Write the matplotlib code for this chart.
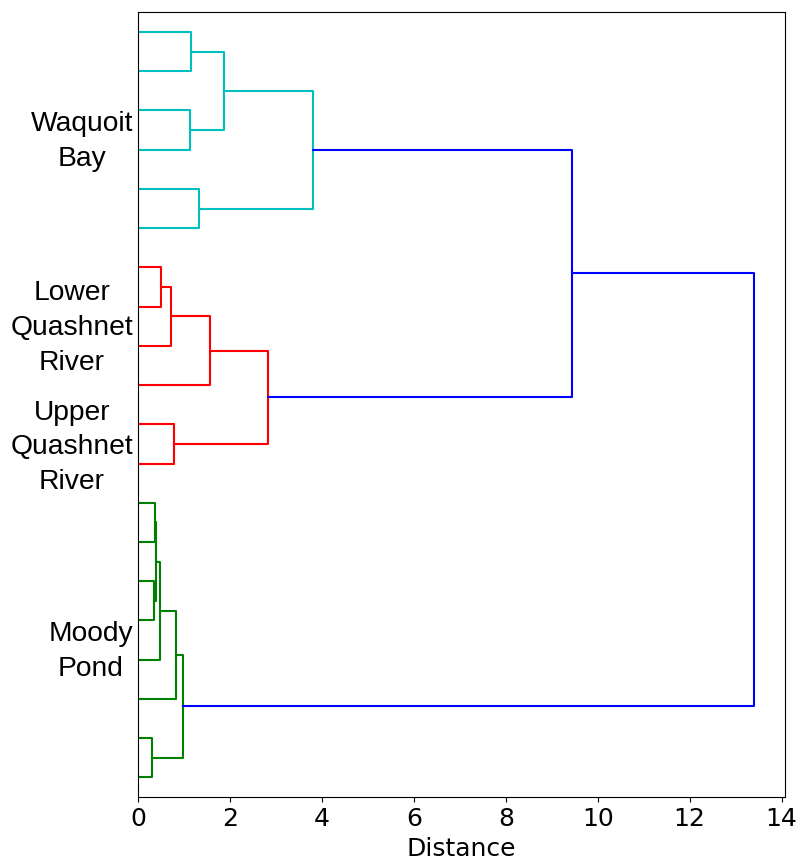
import matplotlib
matplotlib.use("Agg")
import matplotlib.pyplot as plt

# Leaves are numbered 0..19 from top to bottom.
n_leaves = 20

# Agglomerative merges: (child a, child b, distance); new cluster ids start at 20.
merge_a = [0, 2, 20, 4, 22, 6, 25, 26, 10, 27, 24, 12, 14, 31, 33, 34, 18, 35, 30]
merge_b = [1, 3, 21, 5, 23, 7, 8, 9, 11, 28, 29, 13, 15, 32, 16, 17, 19, 36, 37]
merge_dist = [1.15, 1.13, 1.86, 1.32, 3.80,
              0.50, 0.71, 1.56, 0.79, 2.83,
              9.44,
              0.37, 0.34, 0.40, 0.47, 0.82, 0.30, 0.98,
              13.40]
merge_color = ["c", "c", "c", "c", "c",
               "r", "r", "r", "r", "r",
               "b",
               "g", "g", "g", "g", "g", "g", "g",
               "b"]

group_labels = ["Waquoit\nBay", "Lower\nQuashnet\nRiver",
                "Upper\nQuashnet\nRiver", "Moody\nPond"]
group_label_pos = [31.0, 78.6, 109.0, 161.0]

fig = plt.figure(figsize=(8.0, 8.63), dpi=100)
ax = fig.add_axes([0.1725, 0.0765, 0.8085, 0.9092])

# position (distance, y) of every cluster
pos_x = {i: 0.0 for i in range(n_leaves)}
pos_y = {i: 5.0 + 10.0 * i for i in range(n_leaves)}

for k, (a, b, d, col) in enumerate(zip(merge_a, merge_b, merge_dist, merge_color)):
    cid = n_leaves + k
    xa, ya = pos_x[a], pos_y[a]
    xb, yb = pos_x[b], pos_y[b]
    ax.plot([xa, d, d, xb], [ya, ya, yb, yb], color=col, lw=1.5)
    pos_x[cid] = d
    pos_y[cid] = (ya + yb) / 2.0

ax.set_ylim(10.0 * n_leaves, 0)
ax.set_xlim(0, max(merge_dist) * 1.05)

ax.set_yticks(group_label_pos)
ax.set_yticklabels(group_labels, fontsize=20.3, family="Liberation Sans",
                   linespacing=1.43)
for t in ax.get_yticklabels():
    t.set_multialignment("center")
ax.tick_params(axis="y", length=0)

ax.set_xticks(range(0, 15, 2))
ax.tick_params(axis="x", labelsize=18)
ax.set_xlabel("Distance", fontsize=18, labelpad=4.5)

fig.savefig("out.png", dpi=100)
